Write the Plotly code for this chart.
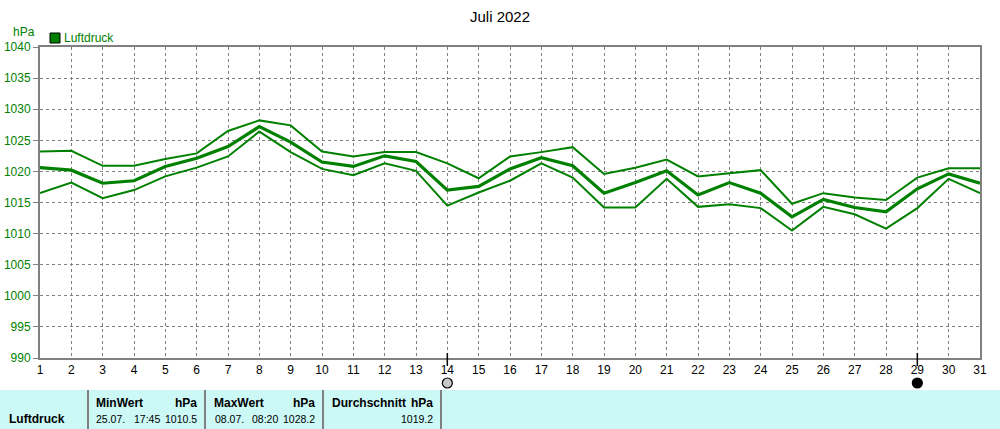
import plotly.graph_objects as go

days = list(range(1, 32))
p_max = [1023.2, 1023.3, 1020.9, 1020.9, 1022.0, 1022.9, 1026.5, 1028.2, 1027.4, 1023.2,
         1022.4, 1023.1, 1023.1, 1021.3, 1018.9, 1022.4, 1023.1, 1023.9, 1019.6, 1020.6,
         1021.9, 1019.2, 1019.7, 1020.2, 1014.8, 1016.5, 1015.8, 1015.4, 1019.0, 1020.5, 1020.5]
p_mean = [1020.6, 1020.2, 1018.1, 1018.5, 1020.8, 1022.1, 1024.0, 1027.2, 1024.7, 1021.5,
          1020.8, 1022.5, 1021.6, 1017.0, 1017.6, 1020.4, 1022.2, 1020.9, 1016.5, 1018.2,
          1020.1, 1016.2, 1018.2, 1016.5, 1012.7, 1015.5, 1014.2, 1013.5, 1017.2, 1019.6, 1018.1]
p_min = [1016.5, 1018.2, 1015.7, 1017.0, 1019.2, 1020.6, 1022.4, 1026.4, 1023.1, 1020.4,
         1019.4, 1021.3, 1020.1, 1014.5, 1016.6, 1018.5, 1021.3, 1019.0, 1014.2, 1014.2,
         1018.8, 1014.3, 1014.7, 1014.1, 1010.5, 1014.3, 1013.1, 1010.8, 1014.1, 1018.8, 1016.5]
moon_days = [14, 29]
moon_colors = ["#c8c8c8", "#000000"]
y_ticks = list(range(990, 1041, 5))

W, H = 1000, 429
L, R, T, B = 40, 980, 47, 358
GREEN = "#008000"
GRAY = "#808080"
FONT = "Liberation Sans"
DAY_PX = (R - L) / (days[-1] - days[0])


def px(x):
    return (x - L) / (R - L)


def py(y):
    return (B - y) / (B - T)


fig = go.Figure()
for vals, w in [(p_max, 2), (p_min, 2), (p_mean, 3.2)]:
    fig.add_trace(go.Scatter(x=days, y=vals, mode="lines",
                             line=dict(color=GREEN, width=w), hoverinfo="skip",
                             showlegend=False))

shapes = []
r_day = 5 / DAY_PX
for d, c in zip(moon_days, moon_colors):
    shapes.append(dict(type="line", xref="x", yref="paper", x0=d, x1=d,
                       y0=py(353), y1=py(366), line=dict(color="black", width=1.5)))
    shapes.append(dict(type="circle", xref="x", yref="paper", x0=d - r_day, x1=d + r_day,
                       y0=py(388), y1=py(378), fillcolor=c,
                       line=dict(color="black", width=1.2)))

# table background
shapes.append(dict(type="rect", xref="paper", yref="paper", x0=px(0), x1=px(1000),
                   y0=py(390), y1=py(430), fillcolor="#ccf8f6", line=dict(width=0),
                   layer="below"))
for xv in [88, 205, 323, 441]:
    shapes.append(dict(type="line", xref="paper", yref="paper", x0=px(xv), x1=px(xv),
                       y0=py(390), y1=py(430), line=dict(color=GRAY, width=2)))

# legend square
shapes.append(dict(type="rect", xref="paper", yref="paper", x0=px(50), x1=px(60),
                   y0=py(43), y1=py(33), fillcolor=GREEN, line=dict(color="black", width=1)))

ann = []


def text(t, x, y, anchor="left", color="black", size=12, bold=False):
    if bold:
        t = "<b>" + t + "</b>"
    ann.append(dict(text=t, x=px(x), y=py(y), xref="paper", yref="paper",
                    xanchor=anchor, yanchor="middle", showarrow=False,
                    font=dict(family=FONT, size=size, color=color)))


text("Juli 2022", 500, 16, anchor="center", size=15)
text("hPa", 11, 32, color=GREEN)
text("Luftdruck", 62, 38, color=GREEN)

VS = 10.5
text("Luftdruck", 7, 419, bold=True)
text("MinWert", 94, 403, bold=True)
text("hPa", 199, 403, anchor="right", bold=True)
text("25.07.", 110, 419, anchor="center", size=VS)
text("17:45", 147, 419, anchor="center", size=VS)
text("1010.5", 199, 419, anchor="right", size=VS)
text("MaxWert", 212, 403, bold=True)
text("hPa", 317, 403, anchor="right", bold=True)
text("08.07.", 229, 419, anchor="center", size=VS)
text("08:20", 265, 419, anchor="center", size=VS)
text("1028.2", 317, 419, anchor="right", size=VS)
text("Durchschnitt", 330, 403, bold=True)
text("hPa", 435, 403, anchor="right", bold=True)
text("1019.2", 435, 419, anchor="right", size=VS)

fig.update_layout(
    width=W, height=H,
    margin=dict(l=L, r=W - R, t=T, b=H - B, autoexpand=False),
    paper_bgcolor="white", plot_bgcolor="white",
    shapes=shapes, annotations=ann,
    showlegend=False,
    xaxis=dict(range=[1, 31], tickvals=days, ticktext=[str(d) for d in days],
               showgrid=True, gridcolor=GRAY, griddash="3px,3px", gridwidth=1,
               showline=True, linecolor=GRAY, linewidth=2, mirror=True,
               ticks="", tickfont=dict(family=FONT, size=12, color="black"),
               zeroline=False, fixedrange=True, automargin=False),
    yaxis=dict(range=[990, 1040], tickvals=y_ticks,
               showgrid=True, gridcolor=GRAY, griddash="3px,3px", gridwidth=1,
               showline=True, linecolor=GRAY, linewidth=2, mirror=True,
               ticks="outside", ticklen=5, tickcolor=GRAY,
               tickfont=dict(family=FONT, size=12, color=GREEN),
               zeroline=False, fixedrange=True, automargin=False),
)

fig.write_html("out.html", config={"displayModeBar": False},
               post_script="document.body.style.margin='0';")
